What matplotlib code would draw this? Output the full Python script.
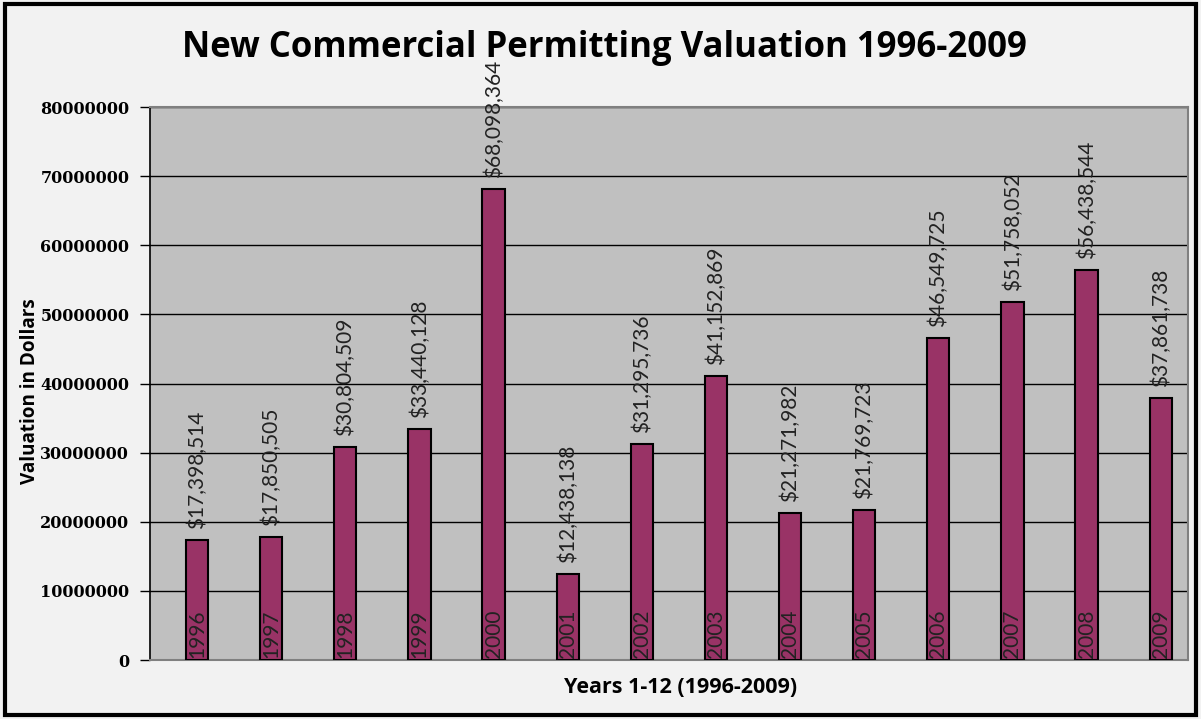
import matplotlib
matplotlib.use("Agg")
import matplotlib.pyplot as plt
from matplotlib.patches import Rectangle

years = ["1996", "1997", "1998", "1999", "2000", "2001", "2002",
         "2003", "2004", "2005", "2006", "2007", "2008", "2009"]
values = [17398514, 17850505, 30804509, 33440128, 68098364, 12438138, 31295736,
          41152869, 21271982, 21769723, 46549725, 51758052, 56438544, 37861738]
yticks = [0, 10000000, 20000000, 30000000, 40000000, 50000000, 60000000, 70000000, 80000000]

fig = plt.figure(figsize=(12.01, 7.19), dpi=100, facecolor="#f2f2f2")
# outer frame
fig.patches.append(Rectangle((0.004, 0.005), 0.992, 0.99, transform=fig.transFigure,
                             fill=False, edgecolor="black", linewidth=3))

ax = fig.add_axes([0.125, 0.082, 0.864, 0.769])
ax.set_facecolor("#c0c0c0")

x = list(range(len(years)))
bars = ax.bar(x, values, width=0.3, color="#993366", edgecolor="black", linewidth=1.5, zorder=3)

for xi, v, yr in zip(x, values, years):
    ax.text(xi, v + 1600000, "${:,}".format(v), rotation=90, ha="center", va="bottom",
            fontsize=15, family="Lato", color="#222222", zorder=4, clip_on=False)
    ax.text(xi, 350000, yr, rotation=90, ha="center", va="bottom",
            fontsize=15, family="Lato", color="#222222", zorder=4)

ax.set_xlim(-0.634, len(years) - 0.634)
ax.set_ylim(0, 80000000)
ax.set_yticks(yticks)
ax.set_yticklabels([str(t) for t in yticks], fontsize=11.5, family="DejaVu Serif", fontweight="bold")
ax.set_xticks([])
ax.yaxis.grid(True, color="black", linewidth=1, zorder=1)
ax.tick_params(axis="y", length=7, width=1, direction="out", pad=8)

for side in ["top", "right"]:
    ax.spines[side].set_color("#808080")
    ax.spines[side].set_linewidth(1.5)
ax.spines["bottom"].set_color("#808080")
ax.spines["bottom"].set_linewidth(1.5)
ax.spines["left"].set_color("black")
ax.spines["left"].set_linewidth(1.2)

ax.set_ylabel("Valuation in Dollars", fontsize=13.6, family="Open Sans", fontweight="bold")
ax.yaxis.set_label_coords(-0.106, 0.486)
ax.set_xlabel("Years 1-12 (1996-2009)", fontsize=15.5, family="Open Sans", fontweight="bold", va="center")
ax.xaxis.set_label_coords(0.511, -0.05)
fig.text(0.503, 0.933, "New Commercial Permitting Valuation 1996-2009", ha="center", va="center",
         fontsize=25, family="Open Sans", fontweight="bold")

fig.savefig("out.png", dpi=100, facecolor=fig.get_facecolor())
